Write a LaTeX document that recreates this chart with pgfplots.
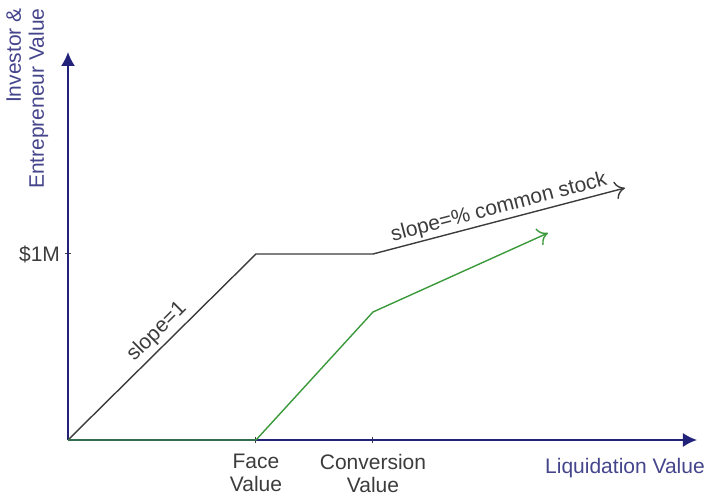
\documentclass[border=0pt]{standalone}
\usepackage{pgfplots}
\pgfplotsset{compat=1.18}
\usepackage{fontspec}
\setmainfont{Liberation Sans}
\usetikzlibrary{arrows.meta}
\definecolor{axisblue}{HTML}{22227A}
\definecolor{labelblue}{HTML}{45458C}
\definecolor{linegray}{HTML}{3C3C3C}
\definecolor{linegreen}{HTML}{3A993A}
\begin{document}
\begin{tikzpicture}
\begin{axis}[
  x=0.5pt, y=0.5pt,
  xmin=0, xmax=629, ymin=0, ymax=388,
  axis lines=left,
  axis line style={axisblue, line width=0.9pt, -{Latex[length=7pt,width=7pt]}},
  clip=false,
  xtick={188,305},
  xticklabels={Face\\Value, Conversion\\Value},
  xticklabel style={align=center, text=linegray, yshift=-2pt},
  ytick={186},
  yticklabels={\$1M},
  yticklabel style={text=linegray, xshift=1pt},
  tick align=center,
  major tick length=3pt,
  tick style={linegray, line width=0.5pt},
  font=\fontsize{10.5}{11.5}\selectfont,
  ]
  % investor payoff
  \addplot[linegray, line width=0.7pt, -{To[length=5pt,width=9pt]}] coordinates {
    (0,0) (188,186) (305,186) (557,252)
  };
  % entrepreneur payoff
  \addplot[linegreen, line width=0.7pt, -{To[length=5pt,width=9pt]}] coordinates {
    (0,0) (188,0) (305,128) (480,207)
  };
  \node[rotate=44.7, text=linegray] at (axis cs:89,108) {slope=1};
  \node[rotate=14.7, text=linegray] at (axis cs:431,232) {slope=\% common stock};
  \node[rotate=90, align=right, anchor=north east, text=labelblue, inner sep=0pt]
    at (axis cs:-62,432) {Investor \&\\Entrepreneur Value};
  \node[text=labelblue] at (axis cs:557,-28) {Liquidation Value};
  \coordinate (bl) at (axis cs:-68,-56);
  \coordinate (tr) at (axis cs:641,440);
\end{axis}
\pgfresetboundingbox
\path[use as bounding box] (bl) rectangle (tr);
\end{tikzpicture}
\end{document}
